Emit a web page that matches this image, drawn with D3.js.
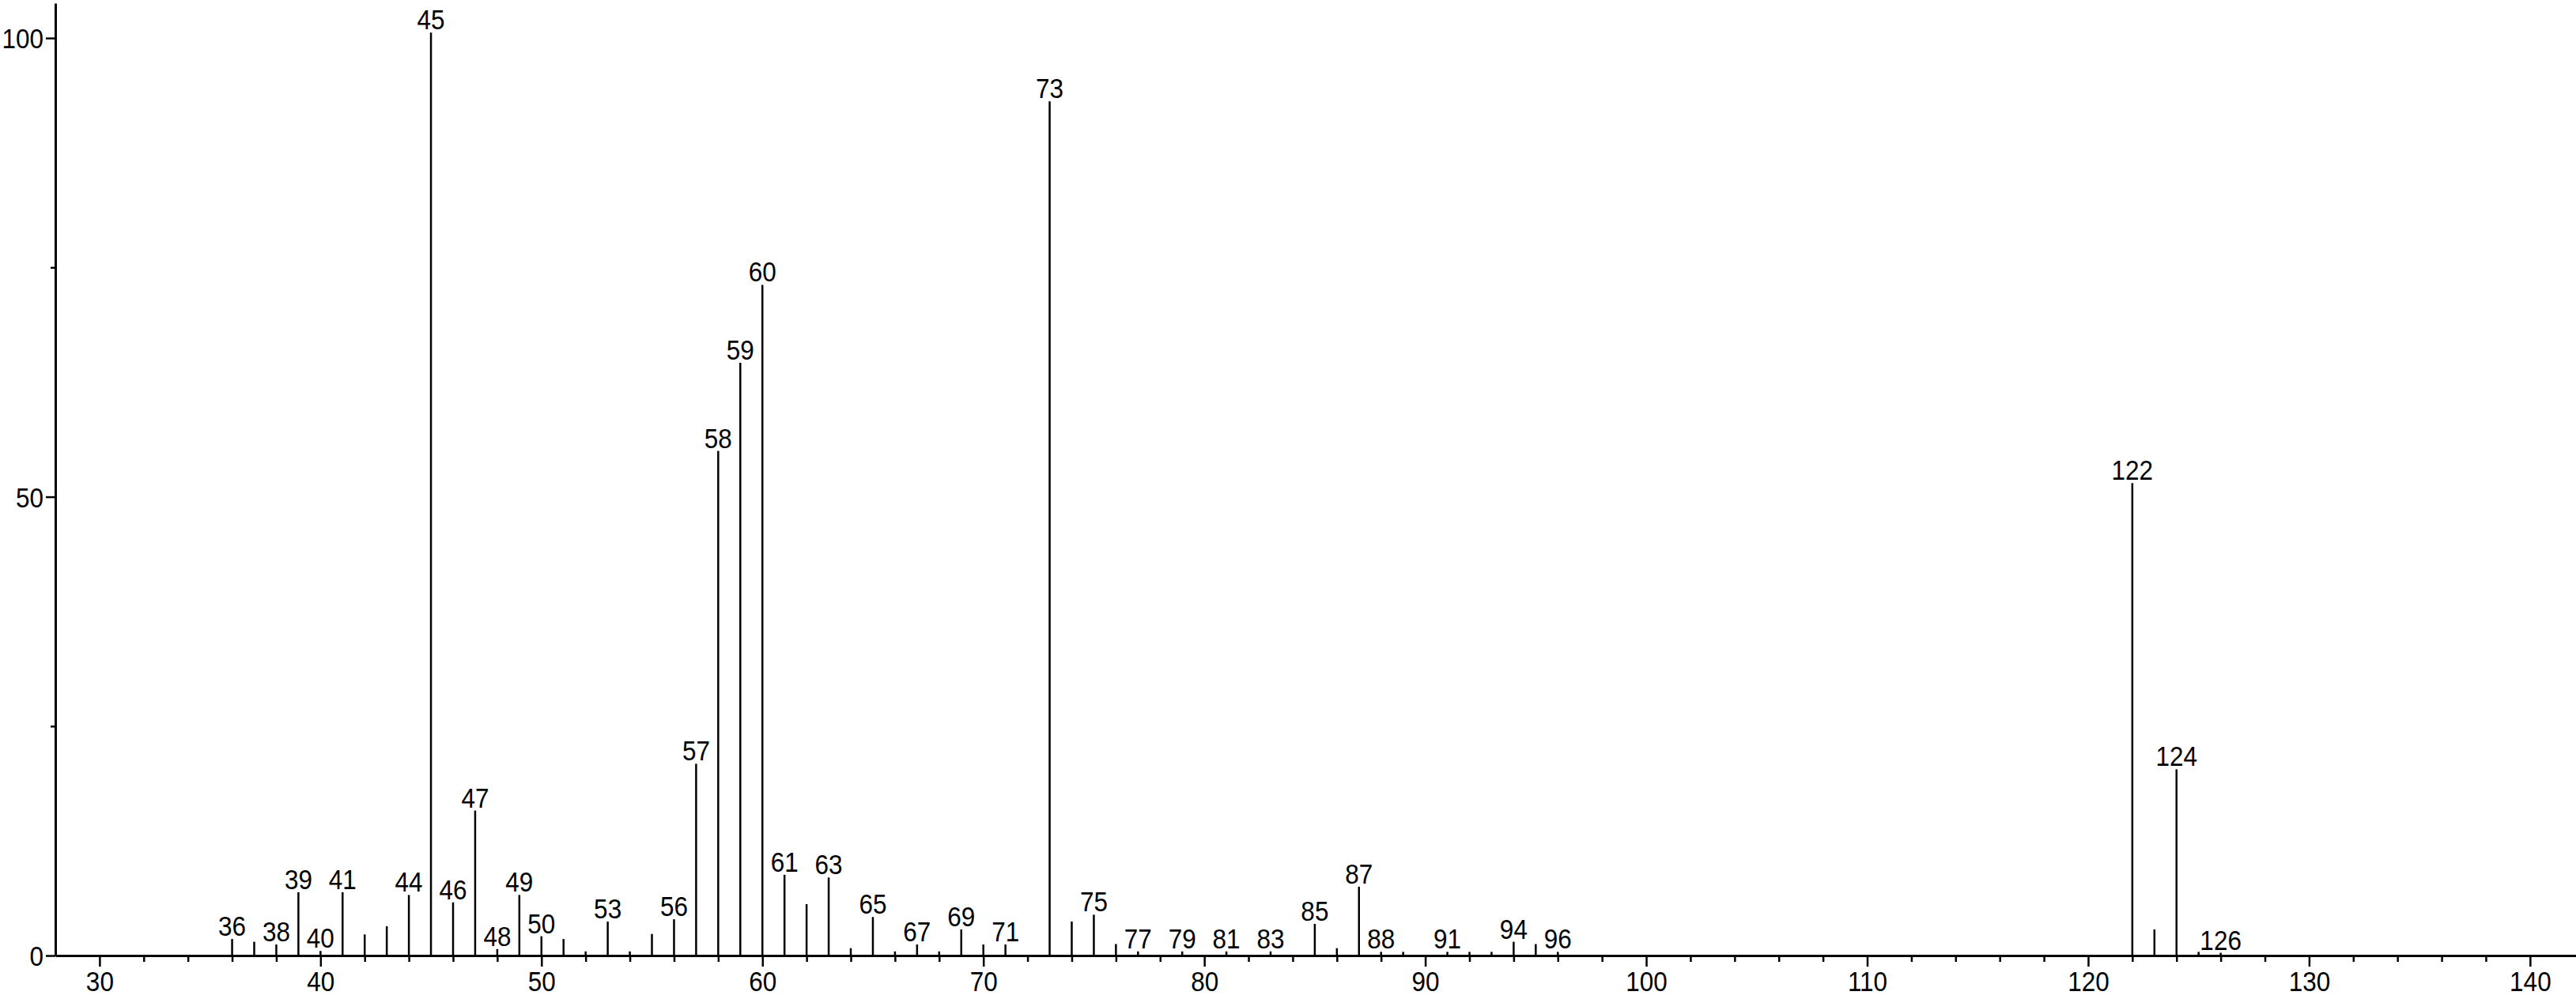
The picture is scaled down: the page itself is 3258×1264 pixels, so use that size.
<!DOCTYPE html>
<html>
<head>
<meta charset="utf-8">
<script src="https://cdn.jsdelivr.net/npm/d3@7"></script>
<style>
  body { margin: 0; background: #fff; }
  svg text { font-family: "Liberation Sans", Arial, sans-serif; fill: #000; }
  .axis path, .axis line { stroke: #000; }
</style>
</head>
<body>
<svg id="chart"></svg>
<script>
var width = 3258, height = 1264;

// m/z of every peak and its relative intensity (%)
var mz = [36, 37, 38, 39, 40, 41, 42, 43, 44, 45, 46, 47, 48, 49, 50, 51, 52, 53, 54, 55, 56, 57, 58, 59, 60,
          61, 62, 63, 64, 65, 66, 67, 68, 69, 70, 71, 73, 74, 75, 76, 77, 79, 81, 83, 85, 86, 87, 88, 89,
          91, 92, 93, 94, 95, 96, 122, 123, 124, 125, 126];
var intensity = [1.8, 1.5, 1.2, 6.9, 0.5, 6.9, 2.3, 3.2, 6.6, 100.6, 5.8, 15.8, 0.7, 6.6, 2.1, 1.8, 0.45, 3.7, 0.45, 2.35, 3.95, 20.9, 55.0, 64.6, 73.1,
          8.8, 5.6, 8.5, 0.8, 4.2, 0.45, 1.2, 0.45, 2.85, 1.2, 1.2, 93.1, 3.7, 4.45, 1.25, 0.45, 0.45, 0.45, 0.45, 3.45, 0.8, 7.5, 0.4, 0.4,
          0.4, 0.4, 0.4, 1.5, 1.25, 0.4, 51.5, 2.85, 20.3, 0.4, 0.3];
// peaks that carry an m/z label
var labelled = [36, 38, 39, 40, 41, 44, 45, 46, 47, 48, 49, 50, 53, 56, 57, 58, 59, 60, 61, 63, 65, 67, 69, 71,
                73, 75, 77, 79, 81, 83, 85, 87, 88, 91, 94, 96, 122, 124, 126];

var xTicks = [30, 40, 50, 60, 70, 80, 90, 100, 110, 120, 130, 140];
var yTicks = [0, 50, 100];
var yMinorTicks = [25, 75];

var peaks = mz.map(function(m, i) { return {mz: m, val: intensity[i]}; });

var svg = d3.select("#chart").attr("width", width).attr("height", height);

var x = d3.scaleLinear().domain([28, 142.08]).range([70, 3258]);
var y = d3.scaleLinear().domain([0, 103.8]).range([1209, 4]);

// minor x ticks every 2 units
var xMinor = d3.range(32, 141, 2).filter(function(v) { return v % 10 !== 0; });

svg.append("g")
  .attr("class", "axis")
  .attr("transform", "translate(0," + y(0) + ")")
  .call(d3.axisBottom(x).tickValues(xMinor).tickSize(8).tickSizeOuter(0).tickFormat(""))
  .call(function(g) { g.select(".domain").remove(); })
  .selectAll("line").attr("stroke-width", 2.5);

var xAxis = svg.append("g")
  .attr("class", "axis")
  .attr("transform", "translate(0," + y(0) + ")")
  .call(d3.axisBottom(x).tickValues(xTicks).tickSize(14).tickSizeOuter(0).tickPadding(6));
xAxis.select(".domain").attr("stroke-width", 3);
xAxis.selectAll(".tick line").attr("stroke-width", 2.5);
xAxis.selectAll(".tick text")
  .attr("font-size", 35)
  .attr("font-family", "Liberation Sans, Arial, sans-serif")
  .attr("transform", "scale(0.9,1)")
  .attr("dy", "0.71em");

svg.append("g")
  .attr("class", "axis")
  .attr("transform", "translate(" + x(28) + ",0)")
  .call(d3.axisLeft(y).tickValues(yMinorTicks).tickSize(6).tickFormat(""))
  .call(function(g) { g.select(".domain").remove(); })
  .selectAll("line").attr("stroke-width", 2.5);

var yAxis = svg.append("g")
  .attr("class", "axis")
  .attr("transform", "translate(" + x(28) + ",0)")
  .call(d3.axisLeft(y).tickValues(yTicks).tickSize(12).tickSizeOuter(0).tickPadding(3));
yAxis.select(".domain").attr("stroke-width", 3);
yAxis.selectAll(".tick line").attr("stroke-width", 2.5);
yAxis.selectAll(".tick text")
  .attr("font-size", 35)
  .attr("font-family", "Liberation Sans, Arial, sans-serif")
  .attr("x", -15 / 0.9)
  .attr("transform", "scale(0.9,1)")
  .attr("dy", "0.36em");

// peaks
svg.append("g")
  .selectAll("line")
  .data(peaks)
  .enter().append("line")
  .attr("x1", function(d) { return x(d.mz); })
  .attr("x2", function(d) { return x(d.mz); })
  .attr("y1", y(0))
  .attr("y2", function(d) { return y(d.val); })
  .attr("stroke", "#000")
  .attr("stroke-width", 2.5);

// peak labels
svg.append("g")
  .selectAll("text")
  .data(peaks.filter(function(d) { return labelled.indexOf(d.mz) >= 0; }))
  .enter().append("text")
  .attr("transform", function(d) {
    return "translate(" + x(d.mz) + "," + (y(d.val) - 4) + ") scale(0.9,1)";
  })
  .attr("text-anchor", "middle")
  .attr("font-size", 35)
  .text(function(d) { return d.mz; });
</script>
</body>
</html>
